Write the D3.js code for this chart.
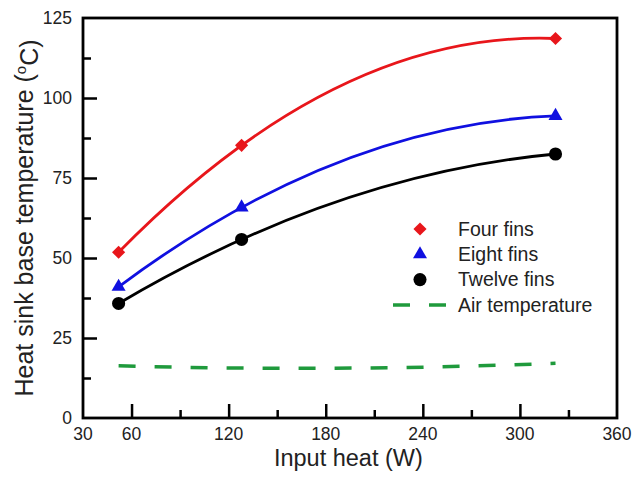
<!DOCTYPE html>
<html>
<head>
<meta charset="utf-8">
<script src="https://cdn.jsdelivr.net/npm/d3@7"></script>
<style>
  body { margin: 0; background: #fff; }
  text { font-family: Arial, "Liberation Sans", sans-serif; fill: #222; }
</style>
</head>
<body>
<div id="wrapper"></div>
<script>
// data
const heat = [52, 128, 322]
const fourFins = [51.8, 85.2, 118.6]
const eightFins = [41.0, 65.8, 94.4]
const twelveFins = [35.8, 55.8, 82.5]
const airTemp = [16.3, 15.6, 17.1]

const xTickLabels = [30, 60, 120, 180, 240, 300, 360]
const yTickLabels = [0, 25, 50, 75, 100, 125]

const seriesNames = ["Four fins", "Eight fins", "Twelve fins", "Air temperature"]

function drawChart() {
  const dimensions = {
    width: 635,
    height: 477,
    margin: { top: 18, right: 18, bottom: 59, left: 83 }
  }
  dimensions.boundedWidth = dimensions.width - dimensions.margin.left - dimensions.margin.right
  dimensions.boundedHeight = dimensions.height - dimensions.margin.top - dimensions.margin.bottom

  const wrapper = d3.select("#wrapper")
    .append("svg")
      .attr("width", dimensions.width)
      .attr("height", dimensions.height)

  const bounds = wrapper.append("g")
    .attr("transform", `translate(${dimensions.margin.left},${dimensions.margin.top})`)

  // scales
  const xScale = d3.scaleLinear()
    .domain([30, 360])
    .range([0, dimensions.boundedWidth])

  const yScale = d3.scaleLinear()
    .domain([0, 125])
    .range([dimensions.boundedHeight, 0])

  // 2nd order fit through the three points, drawn as one quadratic bezier
  function fitPath(values) {
    const [x1, x2, x3] = heat
    const [y1, y2, y3] = values
    const s12 = (y2 - y1) / (x2 - x1)
    const s23 = (y3 - y2) / (x3 - x2)
    const a = (s23 - s12) / (x3 - x1)
    const slope1 = s12 - a * (x2 - x1)
    const cx = (x1 + x3) / 2
    const cy = y1 + slope1 * (x3 - x1) / 2
    const p = d3.path()
    p.moveTo(xScale(x1), yScale(y1))
    p.quadraticCurveTo(xScale(cx), yScale(cy), xScale(x3), yScale(y3))
    return p.toString()
  }

  const symbolSize = sym => sym === d3.symbolCircle ? 135 : sym === d3.symbolTriangle ? 85 : 110

  const series = [
    { name: seriesNames[0], values: fourFins, color: "#e8161b", symbol: d3.symbolDiamond2 },
    { name: seriesNames[1], values: eightFins, color: "#1010e0", symbol: d3.symbolTriangle },
    { name: seriesNames[2], values: twelveFins, color: "#000", symbol: d3.symbolCircle },
  ]

  bounds.append("path")
    .attr("d", fitPath(airTemp))
    .attr("fill", "none")
    .attr("stroke", "#1f9a3c")
    .attr("stroke-width", 3.5)
    .attr("stroke-dasharray", "17,19")

  series.forEach(s => {
    bounds.append("path")
      .attr("d", fitPath(s.values))
      .attr("fill", "none")
      .attr("stroke", s.color)
      .attr("stroke-width", 2.8)

    bounds.selectAll(null)
      .data(s.values)
      .enter().append("path")
        .attr("transform", (d, i) => `translate(${xScale(heat[i])},${yScale(d)})`)
        .attr("d", d3.symbol().type(s.symbol).size(symbolSize(s.symbol)))
        .attr("fill", s.color)
  })

  // axes with inward ticks
  const xMinor = d3.range(90, 360, 60)
  const xMajor = d3.range(60, 360, 60)
  const yMinor = d3.range(12.5, 125, 25)
  const yMajor = d3.range(25, 125, 25)

  const xAxis = bounds.append("g")
    .attr("transform", `translate(0,${dimensions.boundedHeight})`)
  xAxis.call(d3.axisBottom(xScale).tickValues(xMajor).tickSize(-14).tickFormat(""))
  xAxis.append("g").call(d3.axisBottom(xScale).tickValues(xMinor).tickSize(-8).tickFormat(""))

  const yAxis = bounds.append("g")
  yAxis.call(d3.axisLeft(yScale).tickValues(yMajor).tickSize(-14).tickFormat(""))
  yAxis.append("g").call(d3.axisLeft(yScale).tickValues(yMinor).tickSize(-8).tickFormat(""))

  bounds.selectAll(".domain").remove()
  bounds.selectAll(".tick line")
    .attr("stroke", "#000")
    .attr("stroke-width", 2.5)

  // frame
  bounds.append("rect")
    .attr("width", dimensions.boundedWidth)
    .attr("height", dimensions.boundedHeight)
    .attr("fill", "none")
    .attr("stroke", "#000")
    .attr("stroke-width", 2.8)

  // tick labels
  bounds.selectAll(".x-label")
    .data(xTickLabels)
    .enter().append("text")
      .attr("x", d => xScale(d))
      .attr("y", dimensions.boundedHeight + 22)
      .attr("text-anchor", "middle")
      .style("font-size", "17.5px")
      .text(d => d)

  bounds.selectAll(".y-label")
    .data(yTickLabels)
    .enter().append("text")
      .attr("x", -11)
      .attr("y", d => yScale(d))
      .attr("dy", "0.35em")
      .attr("text-anchor", "end")
      .style("font-size", "17.5px")
      .text(d => d)

  // axis titles
  bounds.append("text")
    .attr("x", xScale(194))
    .attr("y", dimensions.boundedHeight + 48)
    .attr("text-anchor", "middle")
    .style("font-size", "23.5px")
    .text("Input heat (W)")

  const yTitle = bounds.append("text")
    .attr("transform", `translate(${-50},${dimensions.boundedHeight / 2}) rotate(-90)`)
    .attr("text-anchor", "middle")
    .style("font-size", "25px")
  yTitle.append("tspan").text("Heat sink base temperature (")
  yTitle.append("tspan").attr("dy", "-0.45em").style("font-size", "15px").text("o")
  yTitle.append("tspan").attr("dy", "0.45em").text("C)")

  // legend
  const legend = bounds.append("g")
    .attr("transform", `translate(${420 - dimensions.margin.left},${229 - dimensions.margin.top})`)

  series.forEach((s, i) => {
    legend.append("path")
      .attr("transform", `translate(0,${i * 25.3})`)
      .attr("d", d3.symbol().type(s.symbol).size(symbolSize(s.symbol)))
      .attr("fill", s.color)
    legend.append("text")
      .attr("x", 38)
      .attr("y", i * 25.3)
      .attr("dy", "0.35em")
      .style("font-size", "19.5px")
      .text(s.name)
  })
  legend.append("line")
    .attr("x1", -27).attr("x2", 27)
    .attr("y1", 3 * 25.3).attr("y2", 3 * 25.3)
    .attr("stroke", "#1f9a3c")
    .attr("stroke-width", 3.5)
    .attr("stroke-dasharray", "17,19")
  legend.append("text")
    .attr("x", 38)
    .attr("y", 3 * 25.3)
    .attr("dy", "0.35em")
    .style("font-size", "19.5px")
    .text(seriesNames[3])
}

drawChart()
</script>
</body>
</html>
